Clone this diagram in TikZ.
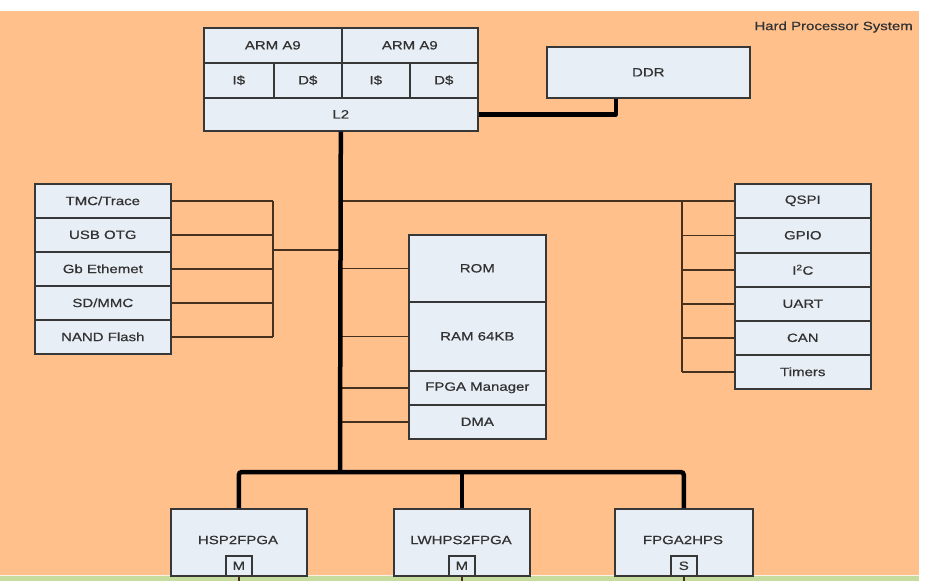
\documentclass[tikz,border=0pt]{standalone}
\usepackage{fontspec}
\setmainfont[FakeStretch=1.25,FakeBold=0.6]{Liberation Sans}
\definecolor{hpsbg}{RGB}{255,192,140}
\definecolor{fpgabg}{RGB}{198,220,158}
\definecolor{cellfill}{RGB}{232,238,246}
\definecolor{cellline}{RGB}{55,55,55}
\definecolor{wire}{RGB}{70,48,30}
\definecolor{txt}{RGB}{50,50,50}
\begin{document}
\begin{tikzpicture}[x=1pt,y=-1pt,
  cell/.style={draw=cellline, line width=1.6pt, fill=cellfill, inner sep=0pt, anchor=north west, text=txt, font=\fontsize{12}{14}\selectfont},
  tag/.style={cell, anchor=south, minimum width=26pt, minimum height=20pt},
  wirethin/.style={draw=wire, line width=1.4pt},
  bus/.style={draw=black, line width=4.5pt},
  title/.style={text=txt, font=\fontsize{12}{14}\selectfont, inner sep=0pt}
]
\useasboundingbox (0,0) rectangle (930,581);
\fill[white] (0,0) rectangle (930,581);
\fill[hpsbg] (0,11) rectangle (919,575);
\fill[fpgabg] (0,575) rectangle (919,581);
\draw[white!80!hpsbg, line width=1pt] (0,575) -- (919,575);

\node[title, anchor=east] (hps) at (913,27) {Hard Processor System};

% CPU block
\node[cell, minimum width=138pt, minimum height=35pt] (arm1) at (203,27) {ARM A9};
\node[cell, minimum width=136pt, minimum height=35pt] (arm2) at (341,27) {ARM A9};
\node[cell, minimum width=70pt, minimum height=35pt] (i1) at (203,62) {I\$};
\node[cell, minimum width=68pt, minimum height=35pt] (d1) at (273,62) {D\$};
\node[cell, minimum width=68pt, minimum height=35pt] (i2) at (341,62) {I\$};
\node[cell, minimum width=68pt, minimum height=35pt] (d2) at (409,62) {D\$};
\node[cell, minimum width=274pt, minimum height=33pt] (l2) at (203,97) {L2};
\node[cell, minimum width=203pt, minimum height=51pt] (ddr) at (546,46) {DDR};

% left peripherals
\node[cell, minimum width=136pt, minimum height=34pt] (tmc) at (34,183) {TMC/Trace};
\node[cell, minimum width=136pt, minimum height=34pt] (usb) at (34,217) {USB OTG};
\node[cell, minimum width=136pt, minimum height=34pt] (eth) at (34,251) {Gb Ethemet};
\node[cell, minimum width=136pt, minimum height=34pt] (sd) at (34,285) {SD/MMC};
\node[cell, minimum width=136pt, minimum height=34pt] (nand) at (34,319) {NAND Flash};

% right peripherals
\node[cell, minimum width=136pt, minimum height=34pt] (qspi) at (734,183) {QSPI};
\node[cell, minimum width=136pt, minimum height=35pt] (gpio) at (734,217) {GPIO};
\node[cell, minimum width=136pt, minimum height=34pt] (i2c) at (734,252) {I\textsuperscript{2}C};
\node[cell, minimum width=136pt, minimum height=34pt] (uart) at (734,286) {UART};
\node[cell, minimum width=136pt, minimum height=34pt] (can) at (734,320) {CAN};
\node[cell, minimum width=136pt, minimum height=34pt] (tim) at (734,354) {Timers};

% memory block
\node[cell, minimum width=137pt, minimum height=67pt] (rom) at (408,234) {ROM};
\node[cell, minimum width=137pt, minimum height=69pt] (ram) at (408,301) {RAM 64KB};
\node[cell, minimum width=137pt, minimum height=34pt] (fmgr) at (408,370) {FPGA Manager};
\node[cell, minimum width=137pt, minimum height=34pt] (dma) at (408,404) {DMA};

% bridges
\node[cell, minimum width=136pt, minimum height=67pt] (h2f) at (170,508) {};
\node[cell, minimum width=136pt, minimum height=67pt] (lw) at (393,508) {};
\node[cell, minimum width=138pt, minimum height=67pt] (f2h) at (614,508) {};
\node[text=txt, font=\fontsize{12}{14}\selectfont, inner sep=0pt] (h2ft) at (238,540) {HSP2FPGA};
\node[text=txt, font=\fontsize{12}{14}\selectfont, inner sep=0pt] (lwt) at (461,540) {LWHPS2FPGA};
\node[text=txt, font=\fontsize{12}{14}\selectfont, inner sep=0pt] (f2ht) at (683,540) {FPGA2HPS};
\node[tag] (m1) at (h2f.south) {M};
\node[tag] (m2) at (lw.south) {M};
\node[tag] (s1) at (f2h.south) {S};

% coordinates
\coordinate (busbot) at (340,472);
\coordinate (lj) at (273,250);
\coordinate (rj) at (682,200);

% thin connectors - left
\foreach \n in {tmc,usb,eth,sd,nand} \draw[wirethin] (\n.east) -- (\n.east -| lj);
\draw[wirethin] (tmc.east -| lj) -- (nand.east -| lj);
\draw[wirethin] (lj) -- (lj -| busbot);

% thin connectors - right
\draw[wirethin] (qspi.west -| busbot) -- (qspi.west);
\foreach \n in {gpio,i2c,uart,can,tim} \draw[wirethin] (\n.west -| rj) -- (\n.west);
\draw[wirethin] (qspi.west -| rj) -- (tim.west -| rj);

% memory
\foreach \n in {rom,ram,fmgr,dma} \draw[wirethin] (\n.west -| busbot) -- (\n.west);

% below tags
\draw[wirethin] (m1.south) -- (m1.south |- 0,581);
\draw[wirethin] (m2.south) -- (m2.south |- 0,581);
\draw[wirethin] (s1.south) -- (s1.south |- 0,581);

% thick bus
\draw[bus] (l2.south) -- (busbot);
\draw[bus, rounded corners=3pt] (h2f.north) |- (f2h.north |- busbot) -- (f2h.north);
\draw[bus] (lw.north |- busbot) -- (lw.north);
\draw[bus, line join=round] (l2.east) -| ([xshift=-32.5pt]ddr.south);
\end{tikzpicture}
\end{document}
